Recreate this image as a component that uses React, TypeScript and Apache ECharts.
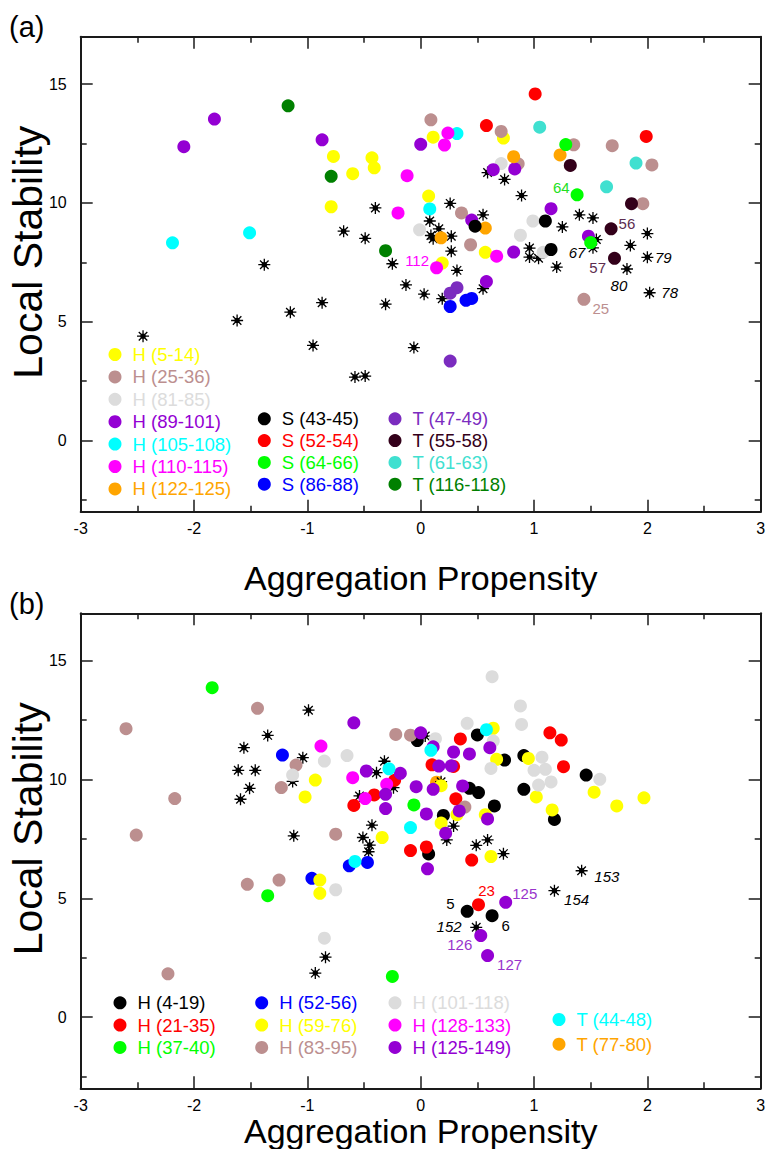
import React, { useEffect, useRef } from "react";
import * as echarts from "echarts";

const FONT = "'Liberation Sans', Arial, Helvetica, sans-serif";

// ---------- tick labels ----------
const xTicks = [-3, -2, -1, 0, 1, 2, 3];
const yMajor = [0, 5, 10, 15];
const yMinor = [-2.5, 2.5, 7.5, 12.5];

// ---------- panel (a) ----------
const aH5_14 = [[-0.77, 11.96], [-0.43, 11.9], [-0.41, 11.48], [-0.6, 11.23], [-0.79, 9.84], [0.11, 12.77], [0.73, 12.73], [0.07, 10.29], [0.57, 7.92], [0.19, 7.47]];
const aH25_36 = [[0.09, 13.5], [0.71, 13.01], [1.35, 12.45], [1.69, 12.41], [2.04, 11.6], [1.96, 9.97], [0.36, 9.58], [0.44, 8.24], [0.86, 11.65], [1.44, 5.94]];
const aH81_85 = [[-0.01, 8.87], [0.71, 11.66], [0.99, 9.24], [0.88, 8.64], [1.08, 7.92]];
const aH89_101 = [[-2.09, 12.37], [-1.82, 13.53], [-0.87, 12.66], [0.0, 12.47], [0.64, 11.4], [0.83, 11.43], [1.15, 9.76], [0.45, 9.28], [0.82, 7.93], [1.48, 8.6], [0.58, 6.69]];
const aH105_108 = [[-2.19, 8.32], [-1.51, 8.74], [0.32, 12.92], [0.08, 9.75]];
const aH110_115 = [[-0.12, 11.15], [-0.2, 9.58], [0.24, 12.94], [0.21, 12.44], [0.67, 7.76], [0.14, 7.27]];
const aH122_125 = [[0.82, 11.95], [1.23, 12.02], [0.18, 8.53], [0.57, 8.94]];
const aS43_45 = [[0.48, 9.02], [1.1, 9.24], [1.15, 8.04]];
const aS52_54 = [[1.01, 14.59], [0.58, 13.26], [1.99, 12.8]];
const aS64_66 = [[1.28, 12.46], [1.38, 10.34], [1.5, 8.33]];
const aS86_88 = [[0.26, 5.64], [0.4, 5.9], [0.45, 5.98]];
const aT47_49 = [[0.32, 6.43], [0.26, 6.2], [0.26, 3.34]];
const aT55_58 = [[1.32, 11.58], [1.86, 9.97], [1.68, 8.91], [1.71, 7.67]];
const aT61_63 = [[1.05, 13.19], [1.9, 11.68], [1.64, 10.68]];
const aT116_118 = [[-1.17, 14.09], [-0.79, 11.12], [-0.31, 7.99]];
const aStars = [[-2.45, 4.39], [-1.62, 5.05], [-1.38, 7.4], [-1.15, 5.4], [-0.95, 4.0], [-0.87, 5.8], [-0.68, 8.81], [-0.58, 2.67], [-0.49, 2.71], [-0.49, 8.51], [-0.4, 9.79], [-0.31, 5.74], [-0.25, 7.44], [-0.13, 6.55], [-0.06, 3.91], [0.03, 6.16], [0.19, 5.97], [0.08, 9.24], [0.16, 8.91], [0.09, 8.63], [0.11, 8.49], [0.27, 8.6], [0.27, 7.97], [0.26, 9.98], [0.32, 7.16], [0.55, 9.5], [0.55, 6.39], [0.59, 11.28], [0.74, 10.99], [0.89, 10.31], [0.96, 8.1], [0.96, 7.72], [1.04, 7.67], [1.2, 7.3], [1.25, 8.99], [1.4, 9.5], [1.52, 9.37], [1.55, 8.46], [1.52, 8.11], [2.0, 8.71], [1.85, 8.21], [2.0, 7.71], [1.82, 7.22], [2.02, 6.22]];

// ---------- panel (b) ----------
const bH4_19 = [[-0.03, 11.64], [0.5, 11.88], [0.74, 10.82], [0.91, 11.01], [1.46, 10.19], [0.43, 9.63], [0.51, 9.45], [0.91, 9.59], [0.65, 8.89], [1.18, 8.32], [0.2, 8.49], [0.07, 6.87], [0.41, 4.45], [0.63, 4.27]];
const bH21_35 = [[0.35, 11.71], [1.14, 11.97], [1.24, 11.66], [1.26, 10.54], [0.1, 10.62], [0.29, 10.55], [0.31, 9.19], [-0.09, 7.01], [0.05, 7.16], [0.45, 6.61], [0.51, 4.73], [-0.59, 8.91], [-0.41, 9.35], [-0.23, 9.97]];
const bH37_40 = [[-1.84, 13.87], [-1.35, 5.11], [-0.25, 1.71], [-0.06, 8.93]];
const bH52_56 = [[-1.22, 11.03], [-0.96, 5.84], [-0.63, 6.37], [-0.47, 6.51]];
const bH59_76 = [[-0.93, 9.98], [-1.02, 9.27], [-0.34, 7.56], [-0.89, 5.77], [-0.89, 5.21], [0.64, 12.16], [0.67, 10.85], [0.95, 10.89], [1.02, 9.27], [1.53, 9.47], [1.73, 8.89], [1.97, 9.23], [1.16, 8.72], [0.18, 9.74], [0.32, 8.52], [0.57, 8.52], [0.18, 8.17], [0.62, 6.76]];
const bH83_95 = [[-2.6, 12.14], [-1.44, 13.0], [-2.51, 7.66], [-2.17, 9.2], [-1.1, 10.61], [-1.23, 9.66], [-0.75, 7.7], [-0.22, 11.9], [-0.09, 11.87], [0.39, 8.84], [-1.53, 5.59], [-1.25, 5.77], [-2.23, 1.82]];
const bH101_118 = [[0.63, 14.33], [0.88, 13.1], [0.89, 12.32], [0.41, 12.37], [0.13, 11.72], [0.64, 11.62], [1.07, 10.94], [1.0, 10.39], [1.1, 10.43], [0.62, 10.47], [1.04, 9.77], [1.15, 9.9], [1.58, 10.01], [-0.85, 10.78], [-0.65, 11.01], [-1.13, 10.19], [-0.75, 5.36], [-0.85, 3.32]];
const bH128_133 = [[-0.88, 11.41], [-0.6, 10.08], [-0.49, 9.2], [-0.3, 9.8]];
const bH125_149 = [[-0.59, 12.39], [-0.48, 10.36], [-0.18, 10.26], [-0.31, 9.38], [-0.31, 8.78], [-0.04, 9.7], [0.0, 11.97], [0.11, 11.38], [0.29, 11.16], [0.43, 11.08], [0.61, 11.34], [0.16, 10.57], [0.27, 10.58], [0.11, 9.59], [0.37, 9.73], [0.34, 8.68], [0.05, 8.55], [0.59, 8.34], [0.22, 7.74], [0.06, 6.24], [0.75, 4.83], [0.53, 3.43], [0.59, 2.59]];
const bT44_48 = [[0.58, 12.1], [0.09, 11.23], [-0.28, 10.45], [-0.09, 7.98], [-0.58, 6.55]];
const bT77_80 = [[0.14, 9.89]];
const bStars = [[-0.99, 12.92], [-1.35, 11.86], [-1.56, 11.34], [-1.04, 10.92], [-1.61, 10.39], [-1.46, 10.39], [-1.51, 9.63], [-1.59, 9.17], [-1.13, 9.92], [-1.12, 7.63], [0.04, 11.83], [-0.32, 10.77], [-0.39, 10.29], [-0.24, 9.66], [-0.54, 9.31], [-0.43, 8.08], [-0.51, 7.56], [-0.45, 7.24], [-0.46, 6.96], [0.18, 9.91], [0.29, 8.04], [0.23, 7.46], [0.49, 7.23], [0.59, 7.46], [0.73, 6.88], [1.42, 6.16], [1.18, 5.32], [0.49, 3.78], [-0.84, 2.52], [-0.93, 1.85]];

// ---------- point annotations (text only) ----------
const annotationTexts = [
  { series: "H (110-115)", idx: 5, text: "112" },
  { series: "S (64-66)", idx: 1, text: "64" },
  { series: "H (25-36)", idx: 9, text: "25" },
  { series: "T (55-58)", idx: 2, text: "56" },
  { series: "T (55-58)", idx: 3, text: "57" },
  { series: "starsA", idx: 38, text: "67" },
  { series: "starsA", idx: 42, text: "80" },
  { series: "starsA", idx: 41, text: "79" },
  { series: "starsA", idx: 43, text: "78" },
  { series: "H (21-35)", idx: 10, text: "23" },
  { series: "H (125-149)", idx: 20, text: "125" },
  { series: "H (4-19)", idx: 12, text: "5" },
  { series: "H (4-19)", idx: 13, text: "6" },
  { series: "starsB", idx: 27, text: "152" },
  { series: "H (125-149)", idx: 21, text: "126" },
  { series: "H (125-149)", idx: 22, text: "127" },
  { series: "starsB", idx: 25, text: "153" },
  { series: "starsB", idx: 26, text: "154" },
];
// label placement / style, keyed by text
const annotationStyle: Record<string, any> = {
  "112": { position: "left", distance: 1, offset: [0, -7], color: "#FF00FF" },
  "64": { position: "left", distance: 1, offset: [0, -7], color: "#22E022" },
  "25": { position: "right", distance: 2, offset: [0, 9], color: "#BC8F8F" },
  "56": { position: "right", distance: 1, offset: [0, -5], color: "#5C2D50" },
  "57": { position: "left", distance: 2, offset: [0, 9], color: "#5C2D50" },
  "67": { position: "left", distance: 1, offset: [0, 5], color: "#000", fontStyle: "italic" },
  "80": { position: "bottom", distance: 2, offset: [-8, 0], color: "#000", fontStyle: "italic" },
  "79": { position: "right", distance: 1, offset: [0, 0], color: "#000", fontStyle: "italic" },
  "78": { position: "right", distance: 5, offset: [0, 0], color: "#000", fontStyle: "italic" },
  "23": { position: "top", distance: 0, offset: [8, 0], color: "#FF0000" },
  "125": { position: "right", distance: 0, offset: [0, -9], color: "#9933CC" },
  "5": { position: "left", distance: 6, offset: [0, -7.5], color: "#000" },
  "6": { position: "right", distance: 3, offset: [0, 10], color: "#000" },
  "152": { position: "left", distance: 8, offset: [0, -1], color: "#000", fontStyle: "italic" },
  "126": { position: "left", distance: 2, offset: [0, 9], color: "#9933CC" },
  "127": { position: "right", distance: 3, offset: [0, 8.5], color: "#9933CC" },
  "153": { position: "right", distance: 6, offset: [0, 6], color: "#000", fontStyle: "italic" },
  "154": { position: "right", distance: 3, offset: [0, 9], color: "#000", fontStyle: "italic" },
};

const groupsA = [
  { name: "H (5-14)", data: aH5_14, color: "#FFFF00" },
  { name: "H (25-36)", data: aH25_36, color: "#BC8F8F" },
  { name: "H (81-85)", data: aH81_85, color: "#DCDCDC" },
  { name: "H (89-101)", data: aH89_101, color: "#9400D3" },
  { name: "H (105-108)", data: aH105_108, color: "#00FFFF" },
  { name: "H (110-115)", data: aH110_115, color: "#FF00FF" },
  { name: "H (122-125)", data: aH122_125, color: "#FFA500" },
  { name: "S (43-45)", data: aS43_45, color: "#000000" },
  { name: "S (52-54)", data: aS52_54, color: "#FF0000" },
  { name: "S (64-66)", data: aS64_66, color: "#00FF00" },
  { name: "S (86-88)", data: aS86_88, color: "#0000FF" },
  { name: "T (47-49)", data: aT47_49, color: "#7B2CBF" },
  { name: "T (55-58)", data: aT55_58, color: "#33001A" },
  { name: "T (61-63)", data: aT61_63, color: "#40E0D0" },
  { name: "T (116-118)", data: aT116_118, color: "#008000" },
];
const groupsB = [
  { name: "H (4-19)", data: bH4_19, color: "#000000" },
  { name: "H (21-35)", data: bH21_35, color: "#FF0000" },
  { name: "H (37-40)", data: bH37_40, color: "#00FF00" },
  { name: "H (52-56)", data: bH52_56, color: "#0000FF" },
  { name: "H (59-76)", data: bH59_76, color: "#FFFF00" },
  { name: "H (83-95)", data: bH83_95, color: "#BC8F8F" },
  { name: "H (101-118)", data: bH101_118, color: "#DCDCDC" },
  { name: "H (128-133)", data: bH128_133, color: "#FF00FF" },
  { name: "H (125-149)", data: bH125_149, color: "#9400D3" },
  { name: "T (44-48)", data: bT44_48, color: "#00FFFF" },
  { name: "T (77-80)", data: bT77_80, color: "#FFA500" },
];
const underlaid = ["T (77-80)"];

const STAR =
  "path://M10 0 L10 20 M0 10 L20 10 M2.9 2.9 L17.1 17.1 M17.1 2.9 L2.9 17.1 M6.5 10 A3.5 3.5 0 1 0 13.5 10 A3.5 3.5 0 1 0 6.5 10 Z";
const AX = "#1a1a1a";

function withLabels(seriesName: string, data: number[][]) {
  return data.map((v, i) => {
    const ann = annotationTexts.find((a) => a.series === seriesName && a.idx === i);
    if (!ann) return v;
    const st = annotationStyle[ann.text];
    return {
      value: v,
      label: {
        show: true,
        formatter: ann.text,
        position: st.position,
        distance: st.distance,
        offset: st.offset,
        color: st.color,
        fontStyle: st.fontStyle || "normal",
        fontSize: 15,
        fontFamily: FONT,
      },
    };
  });
}

function xAxisPair(gridIndex: number, nameGap: number) {
  const common: any = {
    gridIndex,
    type: "value",
    min: xTicks[0],
    max: xTicks[xTicks.length - 1],
    interval: 1,
    splitLine: { show: false },
    axisLine: { show: true, onZero: false, lineStyle: { color: AX, width: 2 } },
    axisTick: { show: true, inside: true, length: 12, lineStyle: { color: AX, width: 1.5 } },
    minorTick: { show: true, splitNumber: 2, length: 6, lineStyle: { color: AX, width: 1.5 } },
  };
  return [
    {
      ...common,
      position: "bottom",
      axisLabel: { show: true, color: "#000", fontSize: 16, margin: 9, fontFamily: FONT },
      name: "Aggregation Propensity",
      nameLocation: "middle",
      nameGap,
      nameTextStyle: { fontSize: 34, color: "#000", fontFamily: FONT },
    },
    { ...common, position: "top", axisLabel: { show: false } },
  ];
}

function yAxisSet(gridIndex: number) {
  const base: any = { gridIndex, type: "value", min: -3, max: 17, splitLine: { show: false }, minorTick: { show: false } };
  const line = { show: true, onZero: false, lineStyle: { color: AX, width: 2 } };
  const hidden = { show: false, onZero: false };
  const major = { show: true, inside: true, length: 12, customValues: yMajor, lineStyle: { color: AX, width: 1.5 } };
  const minor = { show: true, inside: true, length: 6, customValues: yMinor, lineStyle: { color: AX, width: 1.5 } };
  return [
    {
      ...base,
      position: "left",
      axisLine: line,
      axisTick: major,
      axisLabel: { show: true, customValues: yMajor, fontSize: 16, margin: 14, color: "#000", fontFamily: FONT },
      name: "Local Stability",
      nameLocation: "middle",
      nameRotate: 90,
      nameGap: 32,
      nameMoveOverlap: false,
      nameTextStyle: { fontSize: 41, color: "#000", fontFamily: FONT, padding: [0, 0, 0, 44] },
    },
    { ...base, position: "left", axisLine: hidden, axisTick: minor, axisLabel: { show: false } },
    { ...base, position: "right", axisLine: line, axisTick: major, axisLabel: { show: false } },
    { ...base, position: "right", axisLine: hidden, axisTick: minor, axisLabel: { show: false } },
  ];
}

function legendCol(names: string[], groups: any[], left: number, top: number, itemGap: number) {
  return {
    orient: "vertical",
    left,
    top,
    padding: 0,
    itemGap,
    itemWidth: 13,
    itemHeight: 13,
    icon: "circle",
    selectedMode: false,
    itemStyle: { opacity: 1 },
    textStyle: { fontSize: 18.5, lineHeight: 18, fontFamily: FONT, padding: [0, 0, 0, 6] },
    data: names.map((n) => ({ name: n, textStyle: { color: groups.find((g) => g.name === n).color } })),
  };
}

function circleSeries(g: any, xi: number, yi: number) {
  return {
    type: "scatter",
    name: g.name,
    xAxisIndex: xi,
    yAxisIndex: yi,
    symbol: "circle",
    symbolSize: 13,
    z: underlaid.includes(g.name) ? 1 : 2,
    itemStyle: { color: g.color, opacity: 1 },
    data: withLabels(g.name, g.data),
  };
}

function starSeries(name: string, data: number[][], xi: number, yi: number) {
  return {
    type: "scatter",
    name,
    xAxisIndex: xi,
    yAxisIndex: yi,
    symbol: STAR,
    symbolSize: 12,
    z: 2,
    itemStyle: { color: "#000", borderColor: "#000", borderWidth: 1.3, opacity: 1 },
    data: withLabels(name, data),
  };
}

function buildOption() {
  const series: any[] = [];
  series.push(starSeries("starsA", aStars, 0, 0));
  groupsA.forEach((g) => series.push(circleSeries(g, 0, 0)));
  series.push(starSeries("starsB", bStars, 2, 4));
  groupsB.forEach((g) => series.push(circleSeries(g, 2, 4)));

  return {
    animation: false,
    backgroundColor: "#fff",
    title: [
      { text: "(a)", left: 9, top: 12, padding: 0, textStyle: { fontSize: 29, fontWeight: "normal", color: "#000", fontFamily: FONT } },
      { text: "(b)", left: 9, top: 589, padding: 0, textStyle: { fontSize: 29, fontWeight: "normal", color: "#000", fontFamily: FONT } },
    ],
    grid: [
      { left: 80.7, top: 36.7, width: 680, height: 475, containLabel: false, outerBoundsMode: "none" },
      { left: 80.7, top: 613.3, width: 680, height: 475, containLabel: false, outerBoundsMode: "none" },
    ],
    xAxis: [...xAxisPair(0, 49), ...xAxisPair(1, 26)],
    yAxis: [...yAxisSet(0), ...yAxisSet(1)],
    legend: [
      legendCol(["H (5-14)", "H (25-36)", "H (81-85)", "H (89-101)", "H (105-108)", "H (110-115)", "H (122-125)"], groupsA, 108.5, 345, 3.4),
      legendCol(["S (43-45)", "S (52-54)", "S (64-66)", "S (86-88)"], groupsA, 257.8, 409.3, 2.8),
      legendCol(["T (47-49)", "T (55-58)", "T (61-63)", "T (116-118)"], groupsA, 388.5, 409.3, 2.8),
      legendCol(["H (4-19)", "H (21-35)", "H (37-40)"], groupsB, 113.5, 993.3, 3.3),
      legendCol(["H (52-56)", "H (59-76)", "H (83-95)"], groupsB, 255.2, 993.3, 3.3),
      legendCol(["H (101-118)", "H (128-133)", "H (125-149)"], groupsB, 388.5, 993.3, 3.3),
      legendCol(["T (44-48)", "T (77-80)"], groupsB, 552.5, 1010, 5.7),
    ],
    series,
  };
}

export default function App() {
  const ref = useRef<HTMLDivElement>(null);
  useEffect(() => {
    document.body.style.margin = "0";
    const chart = echarts.init(ref.current as HTMLDivElement, null, { renderer: "svg" });
    chart.setOption(buildOption() as any);
    return () => chart.dispose();
  }, []);
  return <div ref={ref} style={{ width: 766, height: 1149 }} />;
}
